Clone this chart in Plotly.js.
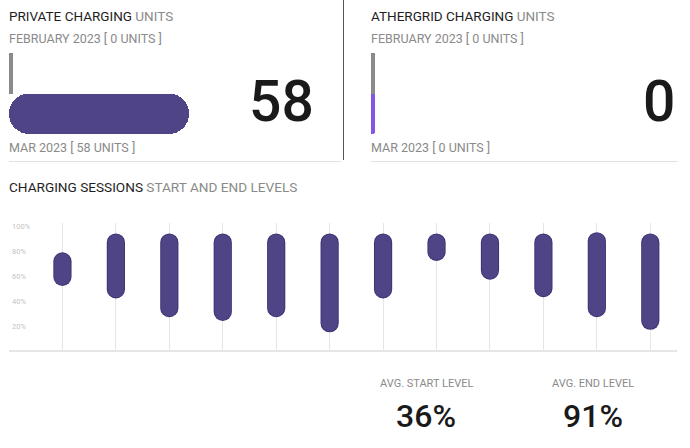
<!DOCTYPE html>
<html>
<head>
<meta charset="utf-8">
<script src="https://cdn.plot.ly/plotly-3.0.1.min.js"></script>
<style>
html,body{margin:0;padding:0;background:#fff;}
#chart{width:690px;height:448px;}
#chart .scatterlayer .js-line{stroke-linecap:round;}
</style>
</head>
<body>
<div id="chart"></div>
<script>
// ---- data ----
const monthLabels = ['FEB', 'MAR'];
const privateUnits = [0, 58];
const athergridUnits = [0, 0];
const sessionIds = ['S1','S2','S3','S4','S5','S6','S7','S8','S9','S10','S11','S12'];
const sessionStart = [53, 43, 28, 25, 28, 16, 43, 73, 58, 44, 28, 18];
const sessionEnd   = [79, 94, 94, 94, 94, 94, 94, 94, 94, 94, 95, 94];
const levelTicks = [20, 40, 60, 80, 100];
const levelTickText = ['20%', '40%', '60%', '80%', '100%'];
const avgStart = 36;
const avgEnd = 91;

// ---- helpers ----
const W = 690, H = 448;
const px = v => v / W;
const py = v => 1 - v / H;
const FONT = 'Roboto, "Open Sans", sans-serif';
const PURPLE = '#4f4486';
const PURPLE_EDGE = '#3c3372';
const VIOLET = '#8257e5';
const GREY = '#8a8a8a';

// unit bar axes: a small stub so zero values still show
function unitRange(domainPx, stubPx, maxVal) {
  const xmin = -stubPx * maxVal / (domainPx - stubPx);
  return [xmin, maxVal];
}
const privRange = unitRange(331, 3.5, 107.6);
const athRange = unitRange(307, 4, 107.6);

function unitTraces(vals, range, xa, ya, curColor) {
  const base = range[0];
  return [
    { type: 'bar', orientation: 'h', xaxis: xa, yaxis: ya,
      y: [monthLabels[0]], x: [vals[0] - base], base: [base],
      width: 1, marker: { color: GREY }, hoverinfo: 'skip', showlegend: false },
    { type: 'bar', orientation: 'h', xaxis: xa, yaxis: ya,
      y: [monthLabels[1]], x: [vals[1] - base], base: [base],
      width: 1, marker: { color: curColor, cornerradius: vals[1] > 0 ? 20 : 2 },
      hoverinfo: 'skip', showlegend: false }
  ];
}

// session pills: thick round-capped segments (cap radius converted to data units)
const levelTop = 223, levelBottom = 350, levelRange = [1.4, 102.8];
const PILL_PX = 17;
const capUnits = (PILL_PX / 2) * (levelRange[1] - levelRange[0]) / (levelBottom - levelTop);
const pillX = [], pillY = [];
sessionIds.forEach((id, i) => {
  const lo = sessionStart[i] + capUnits, hi = sessionEnd[i] - capUnits;
  pillX.push(id, id, null);
  pillY.push(Math.min(lo, hi), Math.max(lo, hi), null);
});
const pillEdge = { type: 'scatter', mode: 'lines', xaxis: 'x3', yaxis: 'y3',
  x: pillX, y: pillY, connectgaps: false,
  line: { color: PURPLE_EDGE, width: PILL_PX + 1.2 }, hoverinfo: 'skip', showlegend: false };
const pill = { type: 'scatter', mode: 'lines', xaxis: 'x3', yaxis: 'y3',
  x: pillX, y: pillY, connectgaps: false,
  line: { color: PURPLE, width: PILL_PX - 0.6 }, hoverinfo: 'skip', showlegend: false };

const data = [
  ...unitTraces(privateUnits, privRange, 'x', 'y', PURPLE),
  ...unitTraces(athergridUnits, athRange, 'x2', 'y2', VIOLET),
  pillEdge, pill
];

const hidden = { showgrid: false, zeroline: false, showticklabels: false, ticks: '', showline: false, fixedrange: true };
const unitYDomain = [py(134), py(53)];

function ann(text, x, y, size, color, xanchor, weight) {
  return { text, x: px(x), y: py(y), xref: 'paper', yref: 'paper', showarrow: false,
    xanchor: xanchor || 'left', yanchor: 'middle',
    font: { family: FONT, size, color, weight: weight || 400 } };
}

const layout = {
  width: W, height: H,
  margin: { l: 0, r: 0, t: 0, b: 0 },
  paper_bgcolor: '#ffffff', plot_bgcolor: 'rgba(0,0,0,0)',
  barmode: 'overlay', bargap: 0,
  showlegend: false,
  font: { family: FONT },
  xaxis: Object.assign({}, hidden, { domain: [px(9), px(340)], range: privRange, anchor: 'y' }),
  yaxis: Object.assign({}, hidden, { domain: unitYDomain, type: 'category', anchor: 'x',
    categoryorder: 'array', categoryarray: monthLabels, range: [1.5, -0.5] }),
  xaxis2: Object.assign({}, hidden, { domain: [px(371), px(678)], range: athRange, anchor: 'y2' }),
  yaxis2: Object.assign({}, hidden, { domain: unitYDomain, type: 'category', anchor: 'x2',
    categoryorder: 'array', categoryarray: monthLabels, range: [1.5, -0.5] }),
  xaxis3: { domain: [px(9), px(677)], type: 'category', range: [-1, 11.5], anchor: 'y3',
    categoryorder: 'array', categoryarray: sessionIds,
    showgrid: true, gridcolor: '#e6e6e6', gridwidth: 1,
    showline: true, linecolor: '#e6e6e6', linewidth: 2,
    showticklabels: false, ticks: '', zeroline: false, fixedrange: true },
  yaxis3: { domain: [py(levelBottom), py(levelTop)], range: levelRange, anchor: 'x3',
    tickvals: levelTicks, ticktext: levelTickText,
    ticklabelposition: 'inside', ticklabelstandoff: 0, ticklabeloverflow: 'allow',
    tickfont: { family: FONT, size: 7.5, color: '#c4c4c4' },
    showgrid: false, zeroline: false, showline: false, ticks: '', fixedrange: true },
  shapes: [
    { type: 'line', xref: 'paper', yref: 'paper', x0: px(343.5), x1: px(343.5), y0: py(0), y1: py(160),
      line: { color: '#555555', width: 1 } },
    { type: 'line', xref: 'paper', yref: 'paper', x0: px(9), x1: px(341), y0: py(161.5), y1: py(161.5),
      line: { color: '#e2e2e2', width: 1 } },
    { type: 'line', xref: 'paper', yref: 'paper', x0: px(371), x1: px(678), y0: py(161.5), y1: py(161.5),
      line: { color: '#e2e2e2', width: 1 } }
  ],
  annotations: [
    ann('PRIVATE CHARGING <span style="color:#8a8a8a">UNITS</span>', 7, 16.5, 13.5, '#1e1e1e'),
    ann('FEBRUARY 2023 [ 0 UNITS ]', 7, 39, 12.5, '#8a8a8a'),
    ann('MAR 2023 [ ' + privateUnits[1] + ' UNITS ]', 7, 147.5, 12.5, '#8a8a8a'),
    ann(String(privateUnits[1]), 316, 102, 57, '#1a1a1a', 'right', 500),
    ann('ATHERGRID CHARGING <span style="color:#8a8a8a">UNITS</span>', 369, 16.5, 13.5, '#1e1e1e'),
    ann('FEBRUARY 2023 [ 0 UNITS ]', 369, 39, 12.5, '#8a8a8a'),
    ann('MAR 2023 [ ' + athergridUnits[1] + ' UNITS ]', 369, 147.5, 12.5, '#8a8a8a'),
    ann(String(athergridUnits[1]), 677, 102, 57, '#1a1a1a', 'right', 500),
    ann('CHARGING SESSIONS <span style="color:#8a8a8a">START AND END LEVELS</span>', 7, 187, 13.6, '#1e1e1e'),
    ann('AVG. START LEVEL', 426, 383, 11, '#8a8a8a', 'center'),
    ann(avgStart + '%', 426, 416, 32, '#1a1a1a', 'center', 500),
    ann('AVG. END LEVEL', 593, 383, 11, '#8a8a8a', 'center'),
    ann(avgEnd + '%', 593, 416, 32, '#1a1a1a', 'center', 500)
  ]
};

Plotly.newPlot('chart', data, layout, { displayModeBar: false, staticPlot: true });
</script>
</body>
</html>
